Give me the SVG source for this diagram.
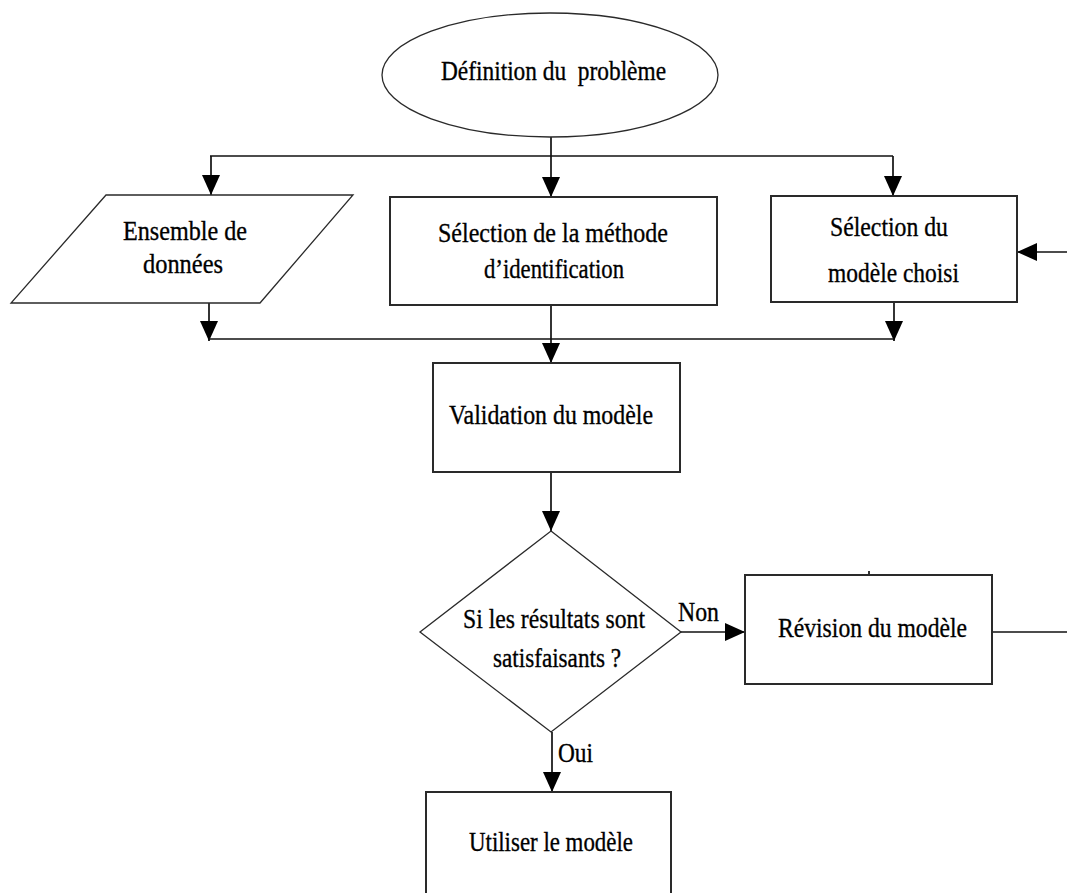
<svg xmlns="http://www.w3.org/2000/svg" width="1067" height="893" viewBox="0 0 1067 893">
<style>
.bg{fill:#fff}
.box{fill:#fff;stroke:#2a2a2a;stroke-width:2}
.thin{fill:#fff;stroke:#2a2a2a;stroke-width:1.3}
.ln{fill:none;stroke:#111;stroke-width:1.7}
.arr{marker-end:url(#ah)}
text{font-family:"Liberation Serif","DejaVu Serif","Times New Roman",serif;font-size:28px;fill:#000;stroke:#000;stroke-width:0.35;white-space:pre}
</style>
<defs>
<marker id="ah" markerUnits="userSpaceOnUse" markerWidth="20" markerHeight="18" refX="20" refY="9" orient="auto">
<path d="M0,0 L20,9 L0,18 Z" fill="#000"/>
</marker>
</defs>
<rect class="bg" x="0" y="0" width="1067" height="893"/>
<g id="connectors">
<path class="ln arr" d="M551,137 V197"/>
<path class="ln" d="M210,156 H893"/>
<path class="ln arr" d="M211,156 V195"/>
<path class="ln arr" d="M893,156 V196"/>
<path class="ln arr" d="M209,303 V341"/>
<path class="ln arr" d="M894,302 V341"/>
<path class="ln" d="M209,339 H894"/>
<path class="ln arr" d="M551,305 V363"/>
<path class="ln arr" d="M551,472 V531"/>
<path class="ln arr" d="M681,632 H745"/>
<path class="ln arr" d="M552,732 V792"/>
<path class="ln" d="M992,632 H1067"/>
<path class="ln arr" d="M1067,252 H1017"/>
<path class="ln" d="M869,571 V575"/>
</g>
<g id="n-definition">
<ellipse class="thin" cx="550" cy="75" rx="168" ry="62"/>
<text x="441" y="80" textLength="225" lengthAdjust="spacingAndGlyphs">Définition du  problème</text>
</g>
<g id="n-ensemble">
<polygon class="thin" points="106,195 353,195 260,303 11,303"/>
<text x="123" y="240" textLength="124" lengthAdjust="spacingAndGlyphs">Ensemble de</text>
<text x="143" y="273" textLength="80" lengthAdjust="spacingAndGlyphs">données</text>
</g>
<g id="n-methode">
<rect class="box" x="390" y="197" width="327" height="108"/>
<text x="438" y="242" textLength="230" lengthAdjust="spacingAndGlyphs">Sélection de la méthode</text>
<text x="484" y="278" textLength="140" lengthAdjust="spacingAndGlyphs">d’identification</text>
</g>
<g id="n-choisi">
<rect class="box" x="771" y="196" width="246" height="106"/>
<text x="830" y="236" textLength="118" lengthAdjust="spacingAndGlyphs">Sélection du</text>
<text x="828" y="282" textLength="131" lengthAdjust="spacingAndGlyphs">modèle choisi</text>
</g>
<g id="n-validation">
<rect class="box" x="433" y="363" width="247" height="109"/>
<text x="449" y="424" textLength="204" lengthAdjust="spacingAndGlyphs">Validation du modèle</text>
</g>
<g id="n-decision">
<polygon class="thin" points="551,531 681,632 551,732 420,632"/>
<text x="463" y="628" textLength="182" lengthAdjust="spacingAndGlyphs">Si les résultats sont</text>
<text x="493" y="667" textLength="128" lengthAdjust="spacingAndGlyphs">satisfaisants ?</text>
</g>
<g id="n-revision">
<rect class="box" x="745" y="575" width="247" height="109"/>
<text x="778" y="637" textLength="189" lengthAdjust="spacingAndGlyphs">Révision du modèle</text>
</g>
<g id="n-utiliser">
<rect class="box" x="426" y="792" width="245" height="120"/>
<text x="469" y="851" textLength="164" lengthAdjust="spacingAndGlyphs">Utiliser le modèle</text>
</g>
<g id="labels">
<text x="678" y="621" textLength="41" lengthAdjust="spacingAndGlyphs">Non</text>
<text x="558" y="762" textLength="35" lengthAdjust="spacingAndGlyphs">Oui</text>
</g>
</svg>
